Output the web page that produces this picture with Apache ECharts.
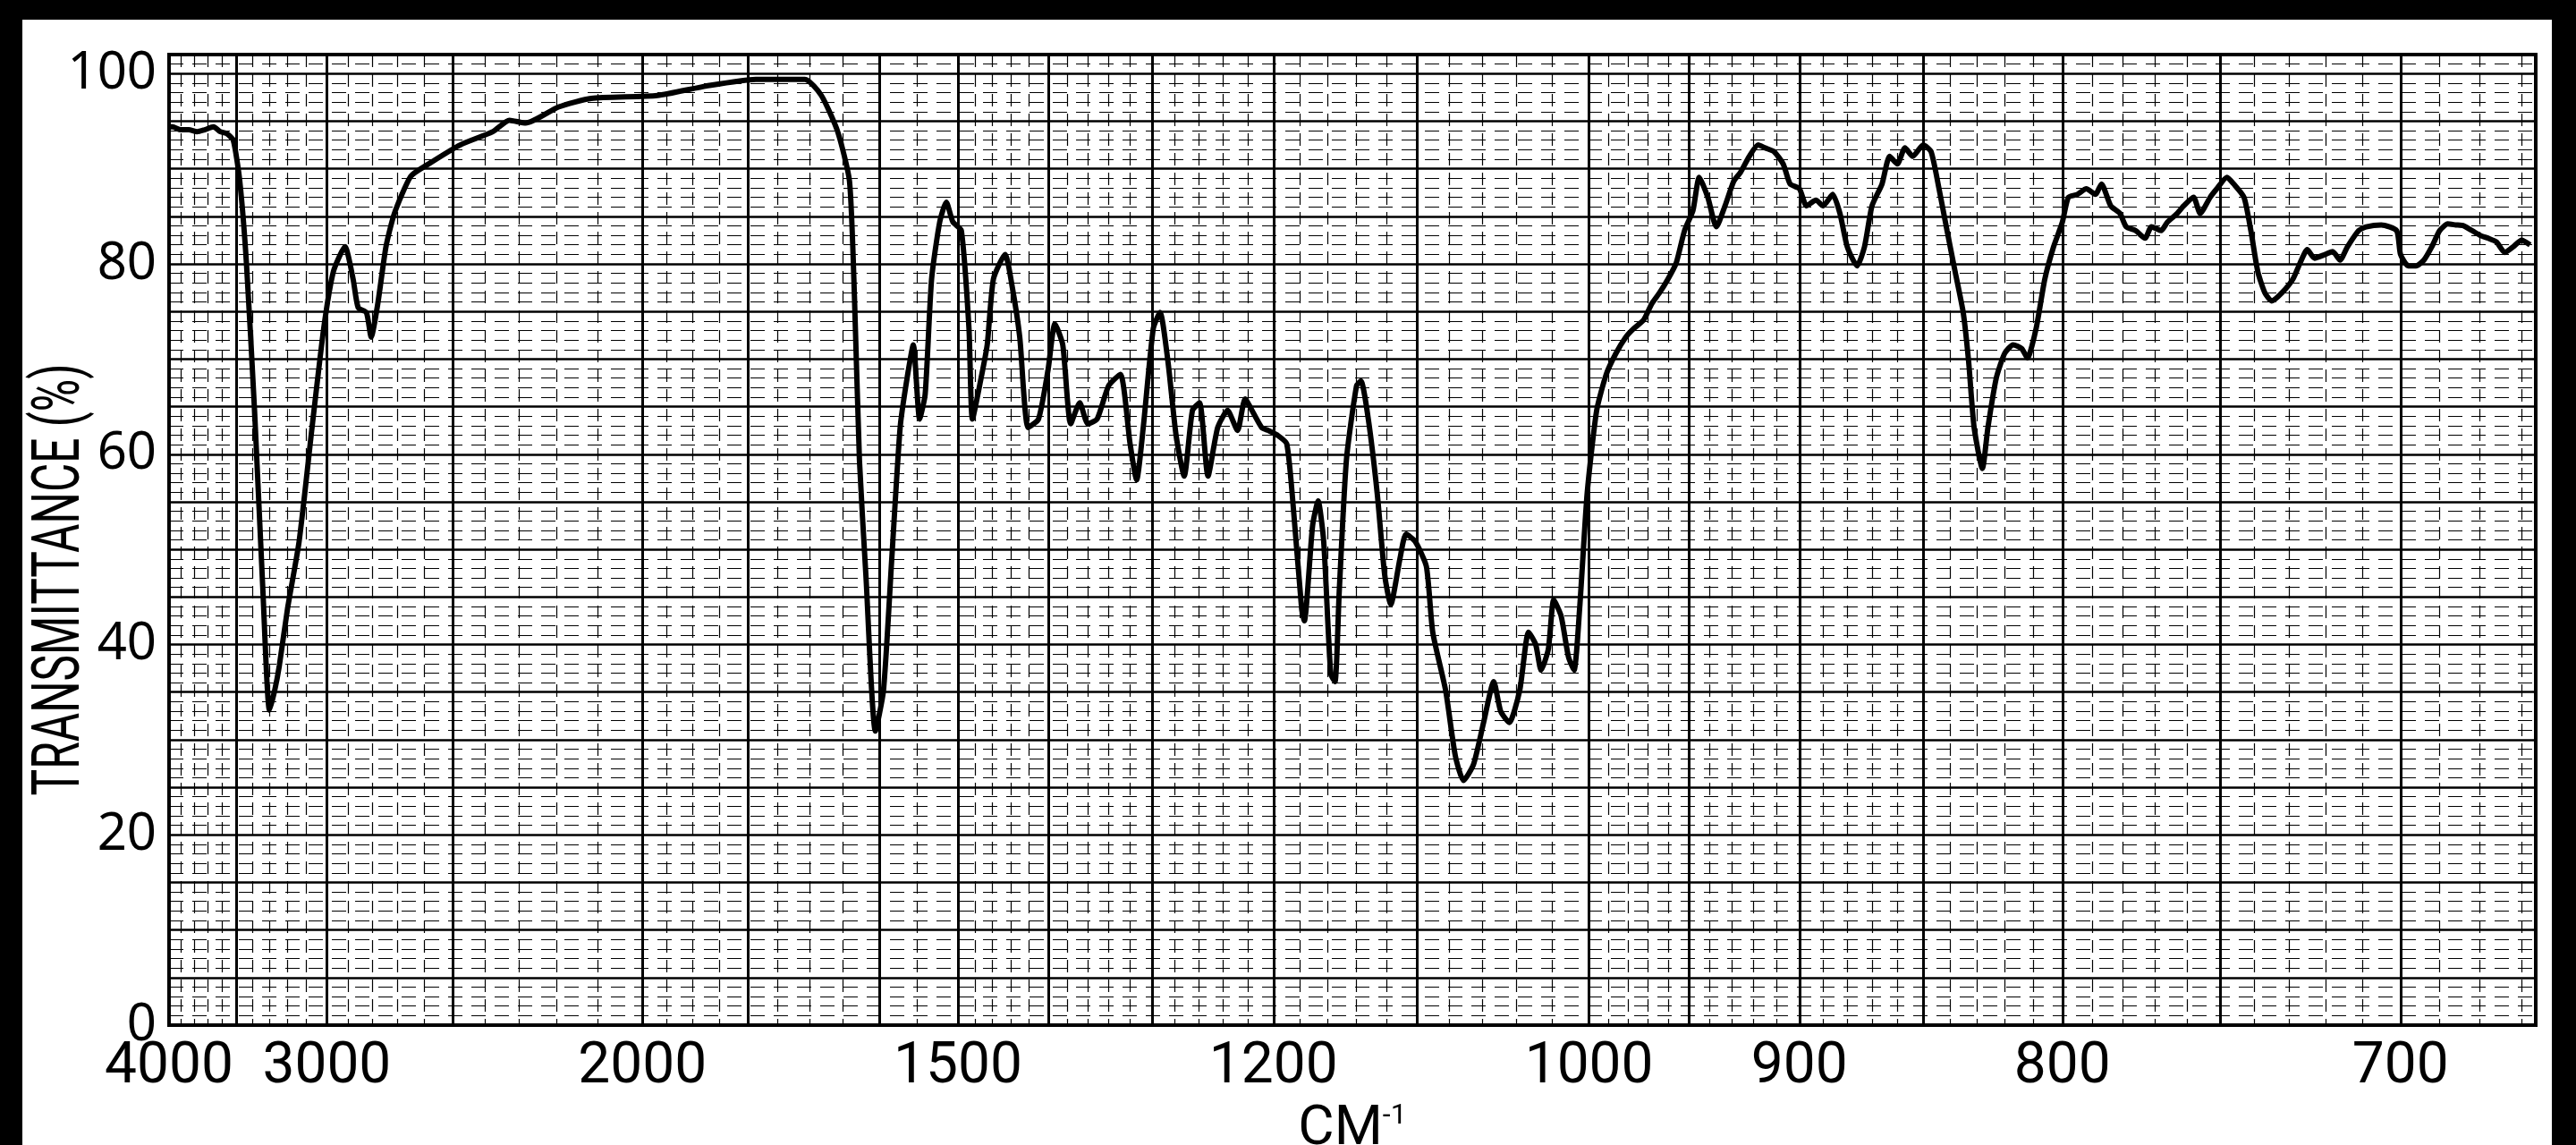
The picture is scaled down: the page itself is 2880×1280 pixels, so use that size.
<!DOCTYPE html>
<html>
<head>
<meta charset="utf-8">
<title>IR spectrum</title>
<script src="https://cdn.jsdelivr.net/npm/echarts@6.0.0/dist/echarts.min.js"></script>
<style>
  html, body { margin: 0; padding: 0; background: #fff; }
  #chart { width: 2880px; height: 1280px; }
</style>
</head>
<body>
<div id="chart"></div>
<script>
// wavenumber (cm-1), left to right
const wavenumbers = [
  4000, 3971, 3904, 3840, 3776, 3720, 3656, 3610, 3566, 3522, 3480, 3438, 3388, 3338, 3300, 3270,
  3244, 3199, 3138, 3072, 3015, 2969, 2916, 2880, 2858, 2823, 2803, 2776, 2743, 2710, 2648, 2589,
  2477, 2375, 2327, 2281, 2194, 2114, 1969, 1873, 1786, 1707, 1682, 1658, 1641, 1634, 1627, 1618,
  1605, 1594, 1583, 1572, 1563, 1555, 1547, 1540, 1532, 1522, 1514, 1506, 1496, 1487, 1483, 1473,
  1466, 1459, 1446, 1438, 1430, 1421, 1410, 1400, 1393, 1385, 1377, 1368, 1360, 1351, 1340, 1329,
  1320, 1314, 1308, 1299, 1293, 1286, 1279, 1272, 1265, 1259, 1252, 1244, 1236, 1228, 1222, 1215,
  1209, 1204, 1197, 1190, 1185, 1179, 1177, 1171, 1167, 1163, 1158, 1155, 1152, 1147, 1140, 1137,
  1132, 1126, 1121, 1117, 1111, 1107, 1101, 1094, 1090, 1082, 1076, 1071, 1065, 1059, 1053, 1049,
  1044, 1038, 1033, 1029, 1026, 1022, 1019, 1015, 1011, 1008, 1005, 1001, 996, 991, 986, 981,
  977, 972, 968, 964, 960, 956, 952, 948, 945, 941, 937, 933, 929, 926, 922, 918,
  915, 911, 907, 904, 900, 897, 893, 890, 886, 883, 880, 876, 873, 870, 866, 863,
  860, 857, 854, 850, 847, 844, 841, 838, 835, 833, 831, 828, 826, 823, 820, 817,
  814, 812, 809, 806, 803, 800, 798, 795, 792, 789, 787, 784, 781, 779, 776, 773,
  771, 768, 766, 763, 761, 758, 756, 753, 751, 748, 746, 743, 741, 739, 737, 735,
  732, 729, 727, 725, 723, 720, 718, 716, 714, 711, 709, 705, 701, 700, 698, 696,
  694, 692, 690, 688, 686, 684, 680, 678, 676, 674, 672, 670, 668
]
// transmittance (%) at those wavenumbers
const transmittance = [
  94.4, 94.4, 94.1, 94.1, 93.9, 94.1, 94.4, 93.9, 93.7, 93.0, 88.7, 80.1, 64.6, 45.6, 33.1, 35.2,
  37.8, 43.8, 50.8, 62.8, 73.2, 79.2, 81.8, 78.4, 75.4, 74.9, 72.3, 75.8, 81.8, 85.3, 89.2, 90.4,
  92.5, 93.9, 95.1, 94.8, 96.5, 97.4, 97.7, 98.7, 99.4, 99.4, 97.7, 93.9, 88.7, 76.6, 59.4, 47.3,
  30.9, 35.2, 49.0, 62.8, 68.0, 71.5, 63.7, 66.3, 78.4, 84.4, 86.5, 84.4, 83.5, 73.2, 63.7, 68.0,
  71.5, 78.4, 81.0, 77.5, 72.3, 62.8, 63.7, 68.9, 73.7, 71.5, 63.2, 65.4, 63.2, 63.7, 67.2, 68.4,
  61.1, 57.3, 62.8, 73.2, 74.9, 69.7, 62.0, 57.7, 64.6, 65.4, 57.7, 62.8, 64.6, 62.5, 65.8, 64.2,
  62.8, 62.5, 62.0, 61.1, 54.2, 43.8, 42.5, 52.5, 55.1, 50.8, 36.9, 36.1, 45.6, 59.4, 67.2, 67.7,
  63.7, 55.9, 47.3, 44.2, 49.0, 51.6, 50.8, 48.2, 41.3, 35.2, 28.3, 25.7, 27.4, 31.8, 36.1, 33.0,
  31.8, 35.2, 41.3, 40.0, 37.3, 39.5, 44.7, 43.0, 38.7, 37.3, 43.8, 55.9, 64.6, 68.4, 70.6, 72.3,
  73.2, 74.1, 75.8, 77.0, 78.4, 80.1, 83.5, 85.6, 89.1, 87.0, 83.9, 86.1, 88.7, 89.6, 91.3, 92.5,
  92.2, 91.8, 90.5, 88.4, 87.9, 86.1, 86.7, 86.1, 87.3, 85.3, 81.8, 79.8, 81.8, 86.1, 88.4, 91.3,
  90.5, 92.2, 91.3, 92.5, 91.8, 87.9, 83.5, 79.2, 74.9, 69.7, 62.8, 58.5, 62.8, 68.0, 70.6, 71.5,
  71.1, 70.1, 73.2, 78.4, 81.8, 84.4, 87.0, 87.3, 87.9, 87.3, 88.4, 86.1, 85.3, 83.9, 83.5, 82.7,
  83.9, 83.5, 84.4, 85.3, 86.1, 87.0, 85.3, 87.0, 87.9, 89.1, 88.4, 87.0, 83.5, 79.2, 77.0, 76.1,
  77.0, 78.4, 80.1, 81.5, 80.6, 81.0, 81.3, 80.4, 81.8, 83.5, 83.9, 84.1, 83.5, 81.0, 79.8, 79.8,
  80.4, 81.8, 83.5, 84.2, 84.1, 84.0, 83.0, 82.7, 82.3, 81.2, 81.8, 82.5, 82.0
]

// labelled wavenumbers on the bottom axis
const xTickLabels = [4000, 3000, 2000, 1500, 1200, 1000, 900, 800, 700]
const yTickLabels = [0, 20, 40, 60, 80, 100]

// chart paper rulings (cm-1)
const heavyRulings = [3500, 3000, 2500, 2000, 1800, 1600, 1500, 1400, 1300, 1200, 1100, 1000, 950, 900, 850, 800, 750, 700]

function steps (from, to, step) {
  const out = []
  for (let v = from; v >= to; v -= step) out.push(v)
  return out
}
const lightRulings = [].concat(steps(3900, 2100, 100), steps(1950, 1550, 50), steps(1480, 1020, 20), steps(990, 670, 10))

// paper is linear in wavelength: plot against micrometres, label in cm-1
const toMicron = v => 10000 / v

const seriesData = wavenumbers.map((w, i) => [toMicron(w), transmittance[i]])

const chart = echarts.init(document.getElementById('chart'))
const option = {
  backgroundColor: '#fff',
  animation: false,
  grid: {
    left: 189,
    right: 45,
    top: 61,
    bottom: 134,
    outerBoundsMode: 'none', // keep the plot box fixed, the CM-1 title runs off the page
    show: true,
    backgroundColor: '#fff',
    borderColor: '#000',
    borderWidth: 4
  },
  xAxis: [
    {
      type: 'value',
      min: 2.5,
      max: 15,
      position: 'bottom',
      axisLine: { show: false },
      axisTick: { show: false, customValues: heavyRulings.map(toMicron) },
      splitLine: { show: true, lineStyle: { color: '#000', width: 3 } },
      axisLabel: {
        customValues: xTickLabels.map(toMicron),
        formatter: v => String(Math.round(10000 / v)),
        color: '#000',
        fontFamily: 'Roboto',
        fontSize: 64,
        margin: 16
      },
      name: '{c|CM}{s|-1}',
      nameLocation: 'middle',
      nameGap: 86,
      nameTextStyle: {
        rich: {
          c: { fontFamily: 'Roboto', fontSize: 62, color: '#000' },
          s: { fontFamily: 'Roboto', fontSize: 32, color: '#000', verticalAlign: 'top' }
        }
      }
    },
    {
      type: 'value',
      min: 2.5,
      max: 15,
      axisLine: { show: false },
      axisLabel: { show: false },
      axisTick: { show: false, customValues: lightRulings.map(toMicron) },
      splitLine: { show: true, lineStyle: { color: '#000', width: 1.2, type: [14, 8] } }
    }
  ],
  yAxis: [
    {
      type: 'value',
      min: 0,
      max: 102,
      interval: 5,
      axisLine: { show: false },
      axisTick: { show: false },
      splitLine: { show: true, lineStyle: { color: '#000', width: 2.5 } },
      axisLabel: {
        customValues: yTickLabels,
        color: '#000',
        fontFamily: 'Noto Sans',
        fontSize: 58,
        margin: 14
      }
    },
    {
      type: 'value',
      min: 0,
      max: 102,
      interval: 1,
      axisLine: { show: false },
      axisTick: { show: false },
      axisLabel: { show: false },
      splitLine: { show: true, lineStyle: { color: '#000', width: 1, type: [16, 10] } }
    }
  ],
  graphic: [
    // scanned page edges
    { type: 'rect', shape: { x: 0, y: 0, width: 2880, height: 22 }, style: { fill: '#000' } },
    { type: 'rect', shape: { x: 0, y: 0, width: 25, height: 1280 }, style: { fill: '#000' } },
    { type: 'rect', shape: { x: 2853, y: 0, width: 27, height: 1280 }, style: { fill: '#000' } },
    {
      type: 'text',
      x: 70,
      y: 648,
      rotation: Math.PI / 2,
      scaleX: 0.92,
      scaleY: 1.36,
      style: {
        text: 'TRANSMITTANCE (%)',
        font: '54px Roboto',
        fill: '#000',
        align: 'center',
        verticalAlign: 'middle'
      }
    }
  ],
  series: [
    {
      name: 'Transmittance',
      type: 'line',
      xAxisIndex: 0,
      yAxisIndex: 0,
      data: seriesData,
      showSymbol: false,
      smooth: 0.2,
      z: 5,
      lineStyle: { color: '#000', width: 6 }
    }
  ]
}
chart.setOption(option)
</script>
</body>
</html>
